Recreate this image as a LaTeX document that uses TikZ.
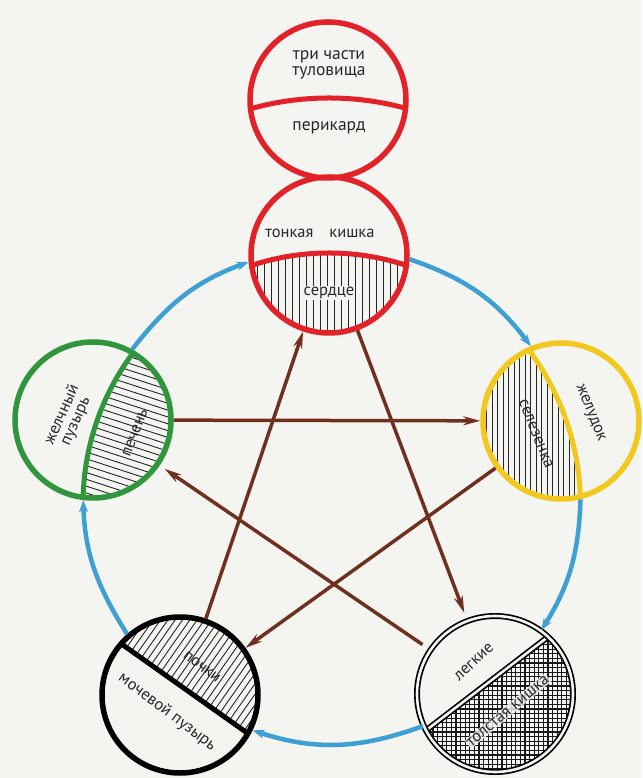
\documentclass[tikz,border=0pt]{standalone}
\usepackage{fontspec}
\setmainfont{PT Sans}
\usetikzlibrary{arrows.meta}
\definecolor{bgc}{RGB}{244,244,240}
\definecolor{redc}{RGB}{226,34,40}
\definecolor{greenc}{RGB}{48,150,62}
\definecolor{yellowc}{RGB}{242,200,30}
\definecolor{bluec}{RGB}{62,160,210}
\definecolor{brownc}{RGB}{112,48,32}
\definecolor{textc}{RGB}{40,40,40}
\begin{document}
\begin{tikzpicture}[x=1pt,y=1pt,
  organ/.style={circle, draw, line width=5.5pt, minimum size=156pt, inner sep=0pt},
  whiteorgan/.style={circle, draw=black, double=bgc, double distance=2.6pt, line width=1.7pt, minimum size=156pt, inner sep=0pt},
  lbl/.style={font=\fontsize{16.5}{15}\selectfont, text=textc, align=center, inner sep=1pt},
  biglbl/.style={font=\fontsize{17.5}{15.5}\selectfont, text=textc, align=center, inner sep=1pt},
  hatchline/.style={line width=0.9pt, draw=black!85},
  gridline/.style={line width=1.1pt, draw=black!90},
  divider/.style={line width=5pt},
  bluearrow/.style={draw=bluec, line width=4.5pt, -{Stealth[length=12pt,width=9pt]}},
  brownarrow/.style={draw=brownc, line width=3.5pt, -{Stealth[length=17pt,width=9pt]}}
]
\fill[bgc] (0,0) rectangle (642,778);
\useasboundingbox (0,0) rectangle (642,778);

% ---------- hatching ----------
% heart (lower part, vertical lines)
\begin{scope}
  \clip (329,523) circle (75.5);
  \clip (329,278.5) circle (246.5);
  \foreach \x in {250,257,...,412} \draw[hatchline] (\x,430) -- (\x,540);
\end{scope}
% liver (green, right part)
\begin{scope}
  \clip (93,358) circle (75.5);
  \clip (336,274) circle (253);
  \begin{scope}[shift={(93,358)}, rotate=-18]
    \foreach \t in {-91,-84.5,...,91} \draw[hatchline] (-95,\t) -- (95,\t);
  \end{scope}
\end{scope}
% spleen (yellow, left part)
\begin{scope}
  \clip (561,357) circle (75.5);
  \clip (320.5,272.4) circle (260);
  \foreach \t in {-91,-85.5,...,91} \draw[hatchline] (561+\t,260) -- (561+\t,450);
\end{scope}
% kidneys (black, upper right part)
\begin{scope}
  \clip (180,83) circle (75.5);
  \clip (82,162) -- (291,14) -- (300,200) -- (82,200) -- cycle;
  \begin{scope}[shift={(180,83)}, rotate=55]
    \foreach \t in {-91,-85,...,91} \draw[hatchline] (-95,\t) -- (95,\t);
  \end{scope}
\end{scope}
% large intestine (white, lower right part, cross hatch)
\begin{scope}
  \clip (495,84) circle (77);
  \clip (587,171) -- (390,20) -- (390,-10) -- (600,-10) -- (600,171) -- cycle;
  \foreach \t in {0,4.6,...,180} {
    \draw[gridline] (410+\t,0) -- (410+\t,170);
    \draw[gridline] (410,\t) -- (590,\t);
  }
\end{scope}

% ---------- dividers ----------
\begin{scope}
  \clip (328,678) circle (78);
  \draw[divider, redc] (329,391) circle (289);
\end{scope}
\begin{scope}
  \clip (329,523) circle (78);
  \draw[divider, redc] (329,278.5) circle (246.5);
\end{scope}
\begin{scope}
  \clip (93,358) circle (78);
  \draw[divider, greenc] (336,274) circle (253);
\end{scope}
\begin{scope}
  \clip (561,357) circle (78);
  \draw[divider, yellowc] (320.5,272.4) circle (260);
\end{scope}
\begin{scope}
  \clip (180,83) circle (78);
  \draw[divider, black] (82,162) -- (291,14);
\end{scope}
\begin{scope}
  \clip (495,84) circle (78);
  \draw[draw=black, double=bgc, double distance=2.6pt, line width=1.7pt] (587,171) -- (390,20);
\end{scope}

% ---------- organ circles ----------
\node[organ, draw=redc] (T) at (328,678) {};
\node[organ, draw=redc] (H) at (329,523) {};
\node[organ, draw=greenc] (G) at (93,358) {};
\node[organ, draw=yellowc] (Y) at (561,357) {};
\node[organ, draw=black] (B) at (180,83) {};
\node[whiteorgan] (W) at (495,84) {};

% ---------- labels ----------
\node[biglbl] (t1) at (329,713) {три части\\туловища};
\node[biglbl] (t2) at (329,650) {перикард};
\node[lbl] (h1) at (320,545) {тонкая\hspace{16pt}кишка};
\node[lbl, fill=bgc] (h2) at (329,485) {сердце};
\node[lbl, rotate=66] (g1) at (69,360) {желчный\\пузырь};
\node[lbl, rotate=69] (g2) at (135,345) {печень};
\node[lbl, rotate=-68] (y1) at (536,344) {селезенка};
\node[lbl, rotate=-68] (y2) at (590,365) {желудок};
\node[lbl, rotate=-37] (b1) at (202,111) {почки};
\node[lbl, rotate=-37] (b2) at (167,66) {мочевой пузырь};
\node[lbl, rotate=43] (w1) at (474,116) {легкие};
\node[lbl, rotate=40, fill=bgc, fill opacity=0.8, text opacity=1] (w2) at (508,67) {толстая кишка};

% ---------- generating cycle (blue), arcs of one large circle ----------
\draw[bluearrow] (H.-3) to[out=-19, in=127] (Y.112);
\draw[bluearrow] (Y.-76) to[out=-92, in=58] (W.54);
\draw[bluearrow] (W.204) to[out=-160, in=-18] (B.-26);
\draw[bluearrow] (B.131) to[out=122, in=-88] (G.-97);
\draw[bluearrow] (G.61) to[out=52, in=200] (H.185);

% ---------- controlling cycle (brown) ----------
\draw[brownarrow] (G) -- (Y);
\draw[brownarrow] (Y) -- (B);
\draw[brownarrow] (B) -- (H);
\draw[brownarrow, shorten >=8pt] (H) -- (W);
\draw[brownarrow, shorten <=9pt, shorten >=6pt] (W) -- (G);
\end{tikzpicture}
\end{document}
